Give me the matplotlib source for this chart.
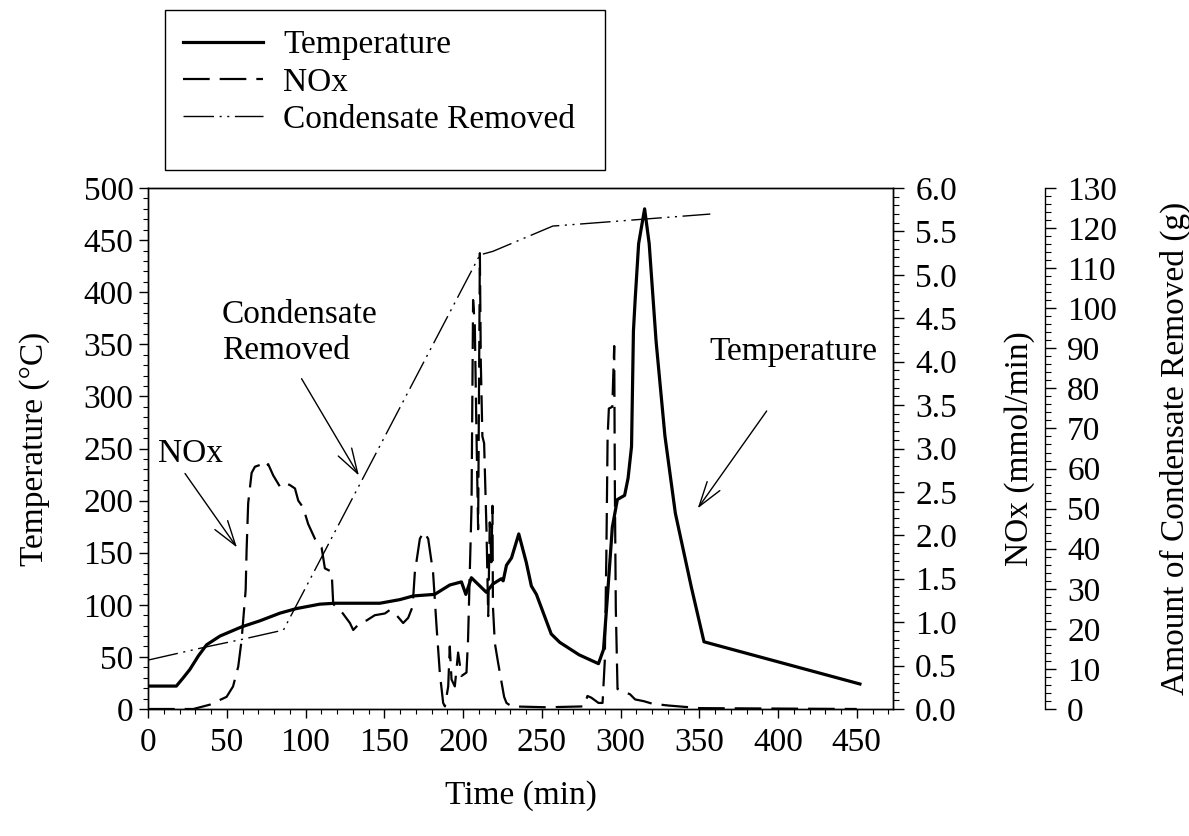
import matplotlib
matplotlib.use("Agg")
import matplotlib.pyplot as plt
from matplotlib.lines import Line2D
from matplotlib.patches import Rectangle
from matplotlib.ticker import MultipleLocator, FormatStrFormatter

plt.rcParams["font.family"] = ["Liberation Serif", "DejaVu Serif"]
plt.rcParams["font.size"] = 24

# --- data ---
temp_t = [0, 18, 22.4, 26.6, 32, 37.2, 45.7, 59.4, 71, 83.8, 94.3, 109, 118.7, 147.2,
          160, 168.4, 182, 191.6, 199, 201.8, 205.3, 214.8, 219, 224.3, 225.5, 227.6,
          230.8, 235.4, 240.2, 243.4, 246.6, 256, 261.4, 273.7, 286, 289.2, 291.5,
          294.8, 298, 302.6, 304.8, 307, 308.2, 309.3, 311.5, 315.3, 318.2, 322.6,
          328.2, 334.8, 344.9, 353, 452]
temp_v = [22, 22, 30, 38, 51, 61.6, 70, 78.8, 84.6, 92, 96.4, 100.6, 101.5, 101.5,
          105, 108.5, 110, 119, 122, 110, 126, 112, 120, 125, 123, 138,
          145, 168, 140.5, 118, 110, 72, 64, 52, 43.5, 57, 104,
          174.5, 201, 205, 221.5, 252, 362.7, 393, 446.6, 480, 446.6, 352.6,
          262, 188, 117.4, 64.5, 24]

nox_t = [0, 28.8, 39.3, 49.9, 54, 57.3, 59.4, 62, 62.6, 63.6, 65.8, 67.9, 71, 74.2,
         76.3, 79.5, 83.8, 86.9, 90, 93.3, 95.4, 98.5, 101.7, 106, 110.2, 112.3,
         116.6, 117.6, 119.7, 122.9, 128.2, 130.3, 134.5, 138.8, 144, 150.4, 153.5,
         157.8, 162, 165.2, 168, 169.4, 172.6, 175.1, 177.9, 181, 183.2, 185.3,
         187.4, 188.5, 190.6, 191.6, 192.7, 194.8, 196.9, 199, 202.2, 203.2, 204.3,
         205.4, 206.4, 207.5, 208.5, 209.6, 210.7, 211.3, 212.3, 213.4, 214.9, 216,
         217, 218, 218.7, 219, 220.2, 222.3, 226.1, 227.6, 230.8, 253, 277, 279,
         281.5, 286, 288.6, 290, 291, 291.8, 292.6, 294.8, 295.3, 296, 296.4, 297,
         298.1, 300.4, 306, 309.3, 314.8, 320.4, 330.4, 350.4, 450]
nox_v = [0, 0, 0.05, 0.14, 0.26, 0.49, 0.79, 1.37, 1.83, 2.37, 2.72, 2.79, 2.81, 2.77,
         2.82, 2.69, 2.56, 2.6, 2.58, 2.54, 2.4, 2.32, 2.13, 1.96, 1.86, 1.62,
         1.58, 1.21, 1.17, 1.12, 0.99, 0.91, 0.99, 1.02, 1.08, 1.10, 1.14,
         1.08, 0.99, 1.05, 1.18, 1.57, 1.96, 2.04, 1.96, 1.57, 0.95, 0.41,
         0.07, 0.03, 0.26, 0.72, 0.34, 0.26, 0.65, 0.38, 0.42, 0.80, 1.57,
         2.33, 4.71, 4.41, 3.22, 2.07, 5.25, 3.99, 3.14, 3.06, 2.07, 1.07,
         2.15, 1.69, 2.34, 1.18, 0.76, 0.53, 0.14, 0.07, 0.03, 0.02, 0.03, 0.15,
         0.13, 0.07, 0.07, 0.55, 1.76, 3.13, 3.46, 3.48, 3.78, 4.18, 2.58, 1.17,
         0.23, 0.21, 0.17, 0.11, 0.09, 0.06, 0.04, 0.01, 0.0]

cond_t = [0, 37, 60, 86, 210.7, 219, 257, 274, 357]
cond_v = [12.2, 15.5, 17.4, 19.7, 113.3, 114.2, 120.5, 121, 123.5]

series_labels = ["Temperature", "NOx", "Condensate Removed"]

# --- styles ---
STY_TEMP = dict(color="black", lw=2.3, linestyle="-")
STY_NOX = dict(color="black", lw=1.6, linestyle=(0, (12, 4.5)))
STY_COND = dict(color="black", lw=1.0, linestyle=(0, (22, 4, 1.5, 4, 1.5, 4)))

W, H = 1189, 836
fig = plt.figure(figsize=(W / 100, H / 100), dpi=100)
ax = fig.add_axes([148 / W, 1 - 709 / H, 745 / W, 521 / H])
ax2 = ax.twinx()
ax3 = ax.twinx()
ax3.spines["right"].set_position(("axes", 1.204))
for s in ("left", "top", "bottom"):
    ax3.spines[s].set_visible(False)

ax.plot(temp_t, temp_v, **STY_TEMP)
ax2.plot(nox_t, nox_v, **STY_NOX)
ax3.plot(cond_t, cond_v, **STY_COND)

# axes / ticks
ax.set_xlim(0, 473)
ax.set_ylim(0, 500)
ax2.set_ylim(0, 6)
ax3.set_ylim(0, 130)
ax.xaxis.set_major_locator(MultipleLocator(50))
ax.xaxis.set_minor_locator(MultipleLocator(10))
ax.yaxis.set_major_locator(MultipleLocator(50))
ax.yaxis.set_minor_locator(MultipleLocator(10))
ax2.yaxis.set_major_locator(MultipleLocator(0.5))
ax2.yaxis.set_minor_locator(MultipleLocator(0.1))
ax2.yaxis.set_major_formatter(FormatStrFormatter("%.1f"))
ax3.yaxis.set_major_locator(MultipleLocator(10))
ax3.yaxis.set_minor_locator(MultipleLocator(2))

for a in (ax, ax2, ax3):
    for sp in a.spines.values():
        sp.set_linewidth(1.0)
ax.tick_params(which="both", direction="out", top=False, right=False, labelsize=24)
ax.tick_params(which="major", length=6.5, width=1.0)
ax.tick_params(which="minor", length=3.5, width=0.8)
ax.tick_params(axis="x", pad=7)
ax.tick_params(axis="y", pad=4)
for a in (ax2, ax3):
    a.tick_params(axis="y", which="both", direction="out", labelsize=24, pad=8)
    a.tick_params(axis="y", which="major", length=8, width=1.0)
    a.tick_params(axis="y", which="minor", length=4.5, width=0.8)

ax.set_xlabel("Time (min)", va="center")
ax.xaxis.set_label_coords(0.5, -(796 - 709) / 521)
ax.set_ylabel("Temperature (°C)", va="center")
ax.yaxis.set_label_coords((35 - 148) / 745, 0.5)
ax2.set_ylabel("NOx (mmol/min)", va="center", rotation=90)
ax2.yaxis.set_label_coords((1020 - 148) / 745, 0.5)
ax3.set_ylabel("Amount of Condensate Removed (g)", va="center", rotation=90)
ax3.yaxis.set_label_coords((1175 - 148) / 745, 0.5)

# annotations (temperature-axis data coordinates)
arrow = dict(arrowstyle="->,head_length=0.9,head_width=0.28", color="black",
             lw=1.0, mutation_scale=20, shrinkA=0, shrinkB=0)
ax.text(27, 245, "NOx", ha="center", va="center")
ax.annotate("", xy=(56.5, 155), xytext=(23.5, 226), arrowprops=arrow)
ax.text(47, 361, "Condensate\nRemoved", ha="left", va="center")
ax.annotate("", xy=(133.9, 224), xytext=(97.5, 317), arrowprops=arrow)
ax.text(410, 343, "Temperature", ha="center", va="center")
ax.annotate("", xy=(349, 192.5), xytext=(392.8, 286), arrowprops=arrow)

# legend in a box above the plot
fig.patches.append(Rectangle((165 / W, 1 - 170 / H), 440 / W, 160 / H,
                             transform=fig.transFigure, fill=False,
                             edgecolor="black", lw=1.0))
handles = [Line2D([], [], **STY_TEMP), Line2D([], [], **STY_NOX),
           Line2D([], [], **STY_COND)]
fig.legend(handles, series_labels, loc="upper left",
           bbox_to_anchor=(183 / W, 1 - 30 / H), frameon=False,
           handlelength=2.4, handletextpad=0.6, labelspacing=0.2,
           borderpad=0, borderaxespad=0, fontsize=24)

fig.savefig("out.png", dpi=100)
